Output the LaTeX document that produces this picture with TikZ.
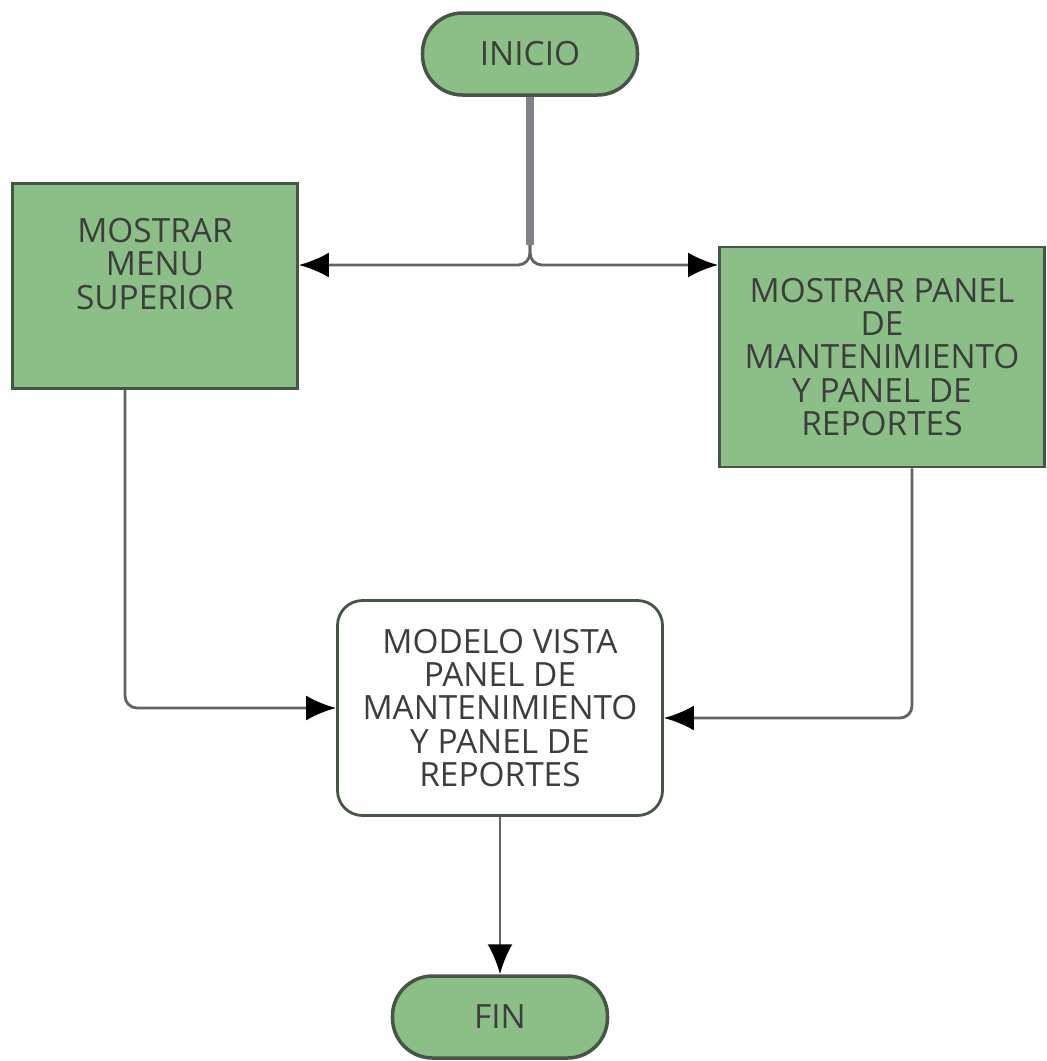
\documentclass[tikz,border=0pt]{standalone}
\usepackage{fontspec}
\setmainfont{Open Sans}
\usetikzlibrary{positioning,arrows.meta}

\definecolor{boxgreen}{RGB}{140,190,135}
\definecolor{boxline}{RGB}{70,85,70}
\definecolor{textgray}{RGB}{60,62,60}
\definecolor{wiregray}{RGB}{95,100,105}

\begin{document}
\begin{tikzpicture}[
    font=\fontsize{9.5}{9.5}\selectfont,
    terminal/.style={draw=boxline,fill=boxgreen,rounded corners=0.4cm,line width=1pt,
      minimum width=2.15cm,minimum height=0.82cm,text=textgray},
    process/.style={draw=boxline,fill=boxgreen,line width=0.8pt,align=center,
      text=textgray,inner sep=2pt},
    model/.style={draw=boxline,fill=white,rounded corners=0.25cm,line width=0.8pt,
      align=center,text=textgray,minimum width=3.25cm,minimum height=2.15cm},
    wire/.style={draw=wiregray,line width=0.8pt,rounded corners=0.12cm,
      -{Latex[length=0.3cm,width=0.25cm,black]}}]
   \useasboundingbox (0,0) rectangle (10.47,-10.61);

   \node[terminal] (inicio) at (5.3,-0.54) {INICIO};
   \node[process,minimum width=2.85cm,minimum height=2.05cm,text depth=0.45cm]
      (menu) at (1.55,-2.86) {MOSTRAR\\MENU\\SUPERIOR};
   \node[process,minimum width=3.25cm,minimum height=2.2cm]
      (panel) at (8.82,-3.57) {MOSTRAR PANEL\\DE\\MANTENIMIENTO\\Y PANEL DE\\REPORTES};
   \node[model] (modelo) at (5.0,-7.08)
      {MODELO VISTA\\PANEL DE\\MANTENIMIENTO\\Y PANEL DE\\REPORTES};
   \node[terminal] (fin) at (5.0,-10.17) {FIN};

   \coordinate (split) at (5.3,-2.65);
   \draw[line width=2pt,draw=wiregray!80] (inicio.south) -- ([yshift=0.2cm]split);
   \path[wire] ([yshift=0.2cm]split) |- (menu.east |- split);
   \path[wire] ([yshift=0.2cm]split) |- (panel.west |- split);
   \path[wire] ([xshift=-0.3cm]menu.south) |- (modelo.west);
   \path[wire] ([xshift=0.3cm]panel.south) |- ([yshift=-0.1cm]modelo.east);
   \path[wire] (modelo.south) -- (fin.north);
\end{tikzpicture}
\end{document}
